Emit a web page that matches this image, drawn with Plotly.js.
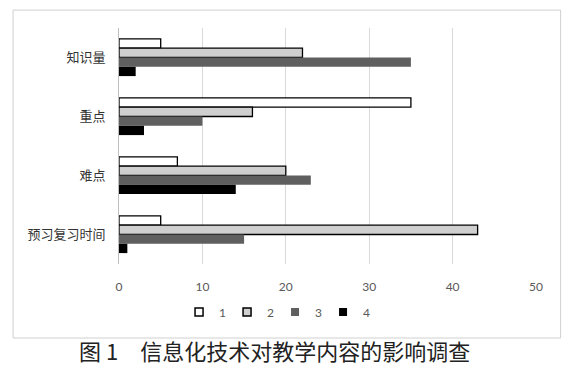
<!DOCTYPE html>
<html>
<head>
<meta charset="utf-8">
<script src="https://cdn.plot.ly/plotly-3.0.1.min.js"></script>
<style>html,body{margin:0;padding:0;background:#fff;}</style>
</head>
<body>
<div id="chart" style="width:565px;height:378px;"></div>
<script>
var categories = ["知识量", "重点", "难点", "预习复习时间"];
var seriesNames = ["1", "2", "3", "4"];
var s1 = [5, 35, 7, 5];
var s2 = [22, 16, 20, 43];
var s3 = [35, 10, 23, 15];
var s4 = [2, 3, 14, 1];
var xTicks = [0, 10, 20, 30, 40, 50];
var caption = "图 1　信息化技术对教学内容的影响调查";

var values = [s1, s2, s3, s4];
var fills = ["#ffffff", "#cfcfcf", "#5f5f5f", "#000000"];
var lines = [1.3, 1.3, 0, 0];

var traces = values.map(function (v, i) {
  return {
    type: "bar",
    orientation: "h",
    name: seriesNames[i],
    x: v,
    y: categories,
    showlegend: false,
    marker: { color: fills[i], line: { color: "#000000", width: lines[i] } },
    hoverinfo: "x+y"
  };
});

// legend-only entries (small square keys like the reference)
values.forEach(function (v, i) {
  traces.push({
    type: "scatter",
    mode: "markers",
    name: seriesNames[i],
    x: [null],
    y: [null],
    showlegend: true,
    marker: { symbol: "square", size: 8, color: fills[i], line: { color: "#000000", width: i < 2 ? 1.5 : 0 } },
    hoverinfo: "skip"
  });
});

var layout = {
  width: 565,
  height: 378,
  margin: { l: 119, r: 29, t: 28, b: 114 },
  paper_bgcolor: "#ffffff",
  plot_bgcolor: "#ffffff",
  barmode: "group",
  bargap: 0.37,
  bargroupgap: 0,
  font: { family: "Lato, 'Noto Sans CJK SC', sans-serif", color: "#595959", size: 12 },
  xaxis: {
    range: [0, 50],
    tickvals: xTicks,
    ticktext: xTicks.map(String),
    showgrid: true,
    gridcolor: "#d9d9d9",
    gridwidth: 1,
    zeroline: false,
    showline: false,
    ticks: "",
    ticklabelstandoff: 14,
    tickfont: { family: "Lato, sans-serif", size: 12, color: "#595959" },
    fixedrange: true
  },
  yaxis: {
    type: "category",
    autorange: "reversed",
    showgrid: false,
    zeroline: false,
    showline: true,
    linecolor: "#bfbfbf",
    linewidth: 1,
    ticks: "",
    ticklabelstandoff: 10,
    tickfont: { family: "'Noto Sans CJK SC', sans-serif", size: 13, color: "#333333" },
    fixedrange: true
  },
  showlegend: true,
  legend: {
    orientation: "h",
    x: 0.144,
    xanchor: "left",
    y: -0.203,
    yanchor: "middle",
    font: { family: "Lato, sans-serif", size: 12, color: "#595959" },
    itemwidth: 30,
    entrywidth: 3,
    entrywidthmode: "pixels",
    bgcolor: "rgba(0,0,0,0)"
  },
  shapes: [{
    type: "rect",
    xref: "paper", yref: "paper",
    x0: -0.254, x1: 1.059, y0: -0.3136, y1: 1.076,
    line: { color: "#d0d0d0", width: 1 },
    fillcolor: "rgba(0,0,0,0)",
    layer: "below"
  }],
  annotations: [{
    text: caption,
    xref: "paper", yref: "paper",
    x: 0.372, y: -0.364,
    xanchor: "center", yanchor: "middle",
    showarrow: false,
    font: { family: "'Noto Sans CJK SC', sans-serif", size: 22, color: "#222222" }
  }]
};

Plotly.newPlot("chart", traces, layout, { displayModeBar: false, staticPlot: true });
</script>
</body>
</html>
